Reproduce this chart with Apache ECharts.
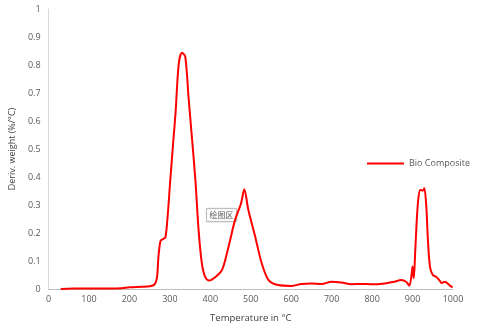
<!DOCTYPE html>
<html>
<head>
<meta charset="utf-8">
<script src="https://cdn.jsdelivr.net/npm/echarts@6/dist/echarts.min.js"></script>
<style>
  html, body { margin: 0; padding: 0; background: #fff; }
  #chart { width: 480px; height: 328px; }
</style>
</head>
<body>
<div id="chart"></div>
<script>
  // temperature (°C) and derivative weight (%/°C)
  const temps = [30, 60, 100, 150, 180, 200, 230, 250, 262, 268, 272, 277, 283, 289, 295, 301, 308, 314, 322, 330, 338, 346, 355, 363, 371, 379, 387, 397, 412, 429, 445, 461, 476, 484, 494, 511, 527, 544, 568, 601, 625, 650, 675, 700, 724, 749, 775, 798, 831, 855, 872, 884, 892, 898, 900, 903, 906, 910, 914, 919, 925, 929, 934, 938, 943, 950, 958, 966, 972, 980, 991, 999];
  const deriv = [0, 0.002, 0.002, 0.002, 0.003, 0.006, 0.008, 0.01, 0.016, 0.04, 0.12, 0.172, 0.178, 0.185, 0.27, 0.39, 0.52, 0.63, 0.806, 0.844, 0.83, 0.687, 0.532, 0.39, 0.21, 0.092, 0.044, 0.03, 0.042, 0.068, 0.151, 0.246, 0.306, 0.356, 0.282, 0.187, 0.092, 0.032, 0.014, 0.011, 0.018, 0.02, 0.018, 0.026, 0.023, 0.017, 0.018, 0.017, 0.02, 0.026, 0.032, 0.026, 0.012, 0.056, 0.08, 0.038, 0.115, 0.235, 0.318, 0.354, 0.351, 0.36, 0.294, 0.175, 0.08, 0.05, 0.044, 0.032, 0.021, 0.026, 0.014, 0.006];
  const seriesName = "Bio Composite";

  const points = temps.map((t, i) => [t, deriv[i]]);
  const labelColor = "#595959";
  const font = "'Open Sans', 'Noto Sans', sans-serif";

  const chart = echarts.init(document.getElementById("chart"), null, { renderer: "canvas" });
  chart.setOption({
    animation: false,
    backgroundColor: "#fff",
    grid: { left: 46, right: 27, top: 9, bottom: 39 },
    legend: {
      data: [seriesName],
      left: 362,
      top: 154,
      icon: "rect",
      itemWidth: 37,
      itemHeight: 2,
      itemGap: 5,
      textStyle: { color: labelColor, fontSize: 9, fontFamily: font }
    },
    xAxis: {
      type: "value",
      min: 0,
      max: 1000,
      interval: 100,
      name: "Temperature in °C",
      nameLocation: "middle",
      nameGap: 24,
      nameTextStyle: { color: "#404040", fontSize: 9.5, fontFamily: font },
      axisLine: { lineStyle: { color: "#bfbfbf", width: 1 } },
      axisTick: { show: false },
      splitLine: { show: false },
      axisLabel: { color: labelColor, fontSize: 9, fontFamily: font, margin: 6, formatter: (v) => String(v) }
    },
    yAxis: {
      type: "value",
      min: 0,
      max: 1,
      interval: 0.1,
      name: "Deriv. weight (%/°C)",
      nameLocation: "middle",
      nameGap: 30,
      nameTextStyle: { color: "#404040", fontSize: 9, fontFamily: font },
      axisLine: { show: true, lineStyle: { color: "#d9d9d9", width: 1 } },
      axisTick: { show: false },
      splitLine: { show: false },
      axisLabel: { color: labelColor, fontSize: 9, fontFamily: font, margin: 8 }
    },
    graphic: [
      {
        type: "group",
        left: 206,
        top: 208,
        children: [
          {
            type: "rect",
            shape: { x: 0, y: 0, width: 30, height: 13 },
            style: { fill: "#fff", stroke: "#bfbfbf", lineWidth: 1, shadowBlur: 2, shadowColor: "rgba(0,0,0,0.15)" }
          },
          {
            type: "text",
            x: 3,
            y: 2,
            style: { text: "绘图区", fill: "#595959", fontSize: 8, fontFamily: "'Noto Sans CJK SC', sans-serif" }
          }
        ]
      }
    ],
    series: [
      {
        name: seriesName,
        type: "line",
        data: points,
        smooth: 0.3,
        showSymbol: false,
        lineStyle: { color: "#ff0000", width: 2 },
        itemStyle: { color: "#ff0000" }
      }
    ]
  });
</script>
</body>
</html>
